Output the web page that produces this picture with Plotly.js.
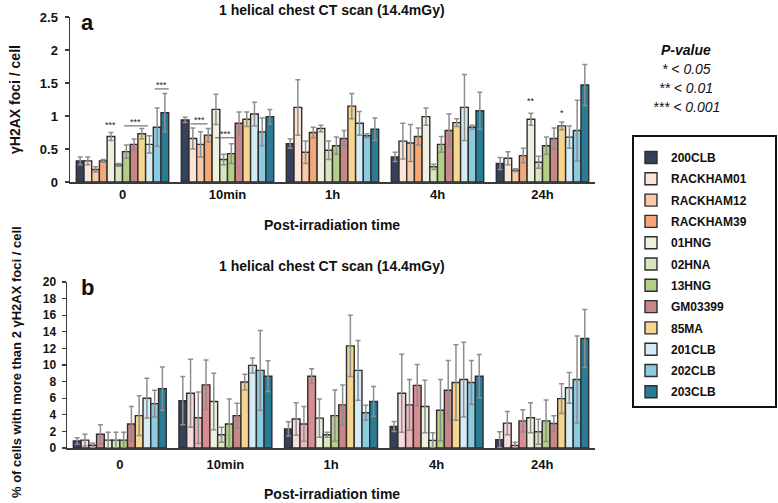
<!DOCTYPE html>
<html><head><meta charset="utf-8">
<script src="https://cdn.plot.ly/plotly-3.0.1.min.js"></script>
<style>html,body{margin:0;padding:0;background:#fff}#chart{width:778px;height:503px}</style>
</head><body><div id="chart"></div>
<script>
const categories = ['0', '10min', '1h', '4h', '24h'];
const cellLines = ['200CLB','RACKHAM01','RACKHAM12','RACKHAM39','01HNG','02HNA','13HNG','GM03399','85MA','201CLB','202CLB','203CLB'];
const colorsA = ['#354159','#fce4d6','#f9caa9','#f4a878','#eef1df','#d8e6bd','#b4ce88','#c98686','#f6d58e','#d5ecf5','#8bcbe0','#2a7b96'];
const colorsB = ['#354159','#f6dbdf','#ebb8bd','#d98c92','#eef1df','#d8e6bd','#b4ce88','#c98686','#f6d58e','#d5ecf5','#8bcbe0','#2a7b96'];

// panel a: gammaH2AX foci / cell (rows = cell lines, cols = categories)
const fociMean = [
  [0.32,0.94,0.58,0.38,0.28],
  [0.32,0.66,1.13,0.62,0.36],
  [0.19,0.57,0.45,0.59,0.18],
  [0.32,0.71,0.75,0.69,0.40],
  [0.69,1.10,0.81,0.99,0.95],
  [0.26,0.34,0.48,0.23,0.30],
  [0.46,0.43,0.55,0.57,0.55],
  [0.57,0.89,0.66,0.78,0.66],
  [0.73,0.95,1.15,0.90,0.85],
  [0.57,1.03,0.89,1.13,0.68],
  [0.83,0.76,0.70,0.83,0.78],
  [1.05,0.99,0.80,1.08,1.47]
];
const fociErr = [
  [0.06,0.04,0.07,0.07,0.09],
  [0.06,0.16,0.42,0.27,0.10],
  [0.04,0.19,0.17,0.28,0.02],
  [0.02,0.10,0.08,0.13,0.11],
  [0.06,0.23,0.05,0.13,0.09],
  [0.02,0.08,0.14,0.04,0.09],
  [0.10,0.15,0.13,0.12,0.13],
  [0.08,0.17,0.12,0.25,0.16],
  [0.08,0.11,0.19,0.06,0.06],
  [0.13,0.18,0.18,0.50,0.17],
  [0.29,0.21,0.03,0.03,0.46],
  [0.29,0.11,0.17,0.28,0.31]
];
// panel b: % of cells with more than 2 foci
const pctMean = [
  [0.85,5.7,2.3,2.6,1.0],
  [0.95,6.6,3.5,6.6,3.0],
  [0.33,3.65,2.9,5.2,0.32],
  [1.65,7.6,8.65,7.55,3.27],
  [0.95,5.6,3.6,5.0,3.65],
  [0.95,1.6,1.6,0.92,1.95],
  [0.95,2.9,3.9,4.55,3.27],
  [2.9,3.9,5.2,6.95,2.95],
  [3.9,7.95,12.3,7.9,5.95],
  [6.0,9.95,9.35,8.25,7.25],
  [5.35,9.35,4.25,7.9,8.25],
  [7.15,8.65,5.6,8.65,13.2]
];
const pctErr = [
  [0.4,2.9,0.85,0.6,0.95],
  [0.7,4.1,1.95,4.7,1.4],
  [0.28,3.1,2.1,3.05,0.36],
  [1.15,3.0,0.9,2.5,1.35],
  [0.95,3.4,2.3,3.15,1.8],
  [0.95,0.9,0.3,0.93,1.5],
  [0.95,3.0,3.1,3.7,2.5],
  [2.1,1.5,2.4,3.6,0.95],
  [2.4,0.95,3.7,4.55,1.8],
  [2.4,0.9,3.6,4.5,1.85],
  [1.6,4.8,0.9,2.65,5.25],
  [2.6,1.85,1.8,2.6,3.5]
];
// significance marks on panel a: group index, first bar, last bar, y level, label
const sigGroup = [0, 0, 0, 1, 1, 4, 4];
const sigFrom  = [4, 5.7, 9.7, 0.7, 3.9, 4, 8];
const sigTo    = [4, 8.8, 11.5, 2.9, 6.5, 4, 8];
const sigY     = [0.80, 0.85, 1.41, 0.88, 0.67, 1.17, 0.99];
const sigLabel = ['***','***','***','***','***','**','*'];

const W = 778, H = 503;
const px = v => v / W, py = v => 1 - v / H;
const bargap = 0.12;
const n = cellLines.length;
const barOffset = k => ((k + 0.5) / n - 0.5) * (1 - bargap);

const FONT = 'Liberation Sans, Arial, sans-serif';
const edge = '#2e2e2e';
const traces = [];
cellLines.forEach((name, i) => {
  traces.push({
    type: 'bar', name: name, x: categories, y: fociMean[i], xaxis: 'x', yaxis: 'y',
    legendgroup: name,
    marker: {color: colorsA[i], line: {color: edge, width: 1.4}},
    error_y: {type: 'data', array: fociErr[i], color: '#8e8e8e', thickness: 1.5, width: 2.5}
  });
});
cellLines.forEach((name, i) => {
  traces.push({
    type: 'bar', name: name, x: categories, y: pctMean[i], xaxis: 'x2', yaxis: 'y2',
    showlegend: false, legendgroup: name,
    marker: {color: colorsB[i], line: {color: edge, width: 1.4}},
    error_y: {type: 'data', array: pctErr[i], color: '#8e8e8e', thickness: 1.5, width: 2.5}
  });
});

const axisLine = {showline: true, linecolor: '#3a3a3a', linewidth: 1.5, showgrid: false, zeroline: false};
const annotations = [];
const shapes = [];
const txt = (x, y, text, size, extra) => annotations.push(Object.assign({
  xref:'paper', yref:'paper', x: px(x), y: py(y), xanchor:'center', yanchor:'middle',
  text: text, showarrow:false, font:{family:FONT, size:size, color:'#111'}}, extra || {}));
const title = '1 helical chest CT scan (14.4mGy)';
txt(332, 10, '<b>'+title+'</b>', 14);
txt(332, 266, '<b>'+title+'</b>', 14);
txt(332, 225, '<b>Post-irradiation time</b>', 14);
txt(332, 494, '<b>Post-irradiation time</b>', 14);
txt(15, 100, '<b>γH2AX foci / cell</b>', 14, {textangle: -90});
txt(16, 362, '<b>% of cells with more than 2 γH2AX foci / cell</b>', 13, {textangle: -90});
txt(87, 22, '<b>a</b>', 22);
txt(87, 287, '<b>b</b>', 22);
// p-value key
txt(686, 50, '<b><i>P-value</i></b>', 14);
txt(686, 69, '<i>* &lt; 0.05</i>', 14);
txt(686, 88, '<i>** &lt; 0.01</i>', 14);
txt(686, 107, '<i>*** &lt; 0.001</i>', 14);

sigGroup.forEach((g, j) => {
  const x0 = g + barOffset(sigFrom[j]), x1 = g + barOffset(sigTo[j]);
  if (sigFrom[j] !== sigTo[j]) {
    shapes.push({type:'line', xref:'x', yref:'y', x0: x0, x1: x1, y0: sigY[j], y1: sigY[j], line:{color:'#555', width:1}});
  }
  annotations.push({xref:'x', yref:'y', x: (x0 + x1) / 2, y: sigY[j], xanchor:'center', yanchor:'bottom', yshift: -3, text: sigLabel[j], showarrow:false, font:{family:FONT,size:9,color:'#222'}});
});

// legend frame
shapes.push({type:'rect', xref:'paper', yref:'paper', x0: px(633), x1: px(776), y0: py(407), y1: py(136), line:{color:'#111', width:2}});

const layout = {
  width: W, height: H,
  margin: {l:0, r:0, t:0, b:0},
  paper_bgcolor: '#fff', plot_bgcolor: 'rgba(0,0,0,0)',
  font: {family: FONT, color: '#111'},
  barmode: 'group', bargap: bargap, bargroupgap: 0,
  xaxis: Object.assign({}, axisLine, {domain:[px(70), px(595)], anchor:'y', ticks:'', tickfont:{size:13, weight:'bold'}}),
  yaxis: Object.assign({}, axisLine, {domain:[py(182), py(17)], anchor:'x', range:[0,2.5], dtick:0.5, ticks:'outside', ticklen:4, tickcolor:'#3a3a3a', tickwidth:1.2, tickfont:{size:13, weight:'bold'}, ticklabelstandoff: 4}),
  xaxis2: Object.assign({}, axisLine, {domain:[px(67), px(595)], anchor:'y2', ticks:'', tickfont:{size:13, weight:'bold'}, ticklabelstandoff: 4}),
  yaxis2: Object.assign({}, axisLine, {domain:[py(448), py(282)], anchor:'x2', range:[0,20], dtick:2, ticks:'outside', ticklen:4, tickcolor:'#3a3a3a', tickwidth:1.2, tickfont:{size:12, weight:'bold'}, ticklabelstandoff: 3}),
  legend: {x: px(631), y: py(143), xanchor:'left', yanchor:'top', bgcolor:'rgba(0,0,0,0)', borderwidth:0, tracegroupgap: 2.3, font:{family:FONT, size:12, weight:'bold', color:'#111'}},
  annotations: annotations,
  shapes: shapes
};
Plotly.newPlot('chart', traces, layout, {staticPlot:true, displayModeBar:false});
</script></body></html>
